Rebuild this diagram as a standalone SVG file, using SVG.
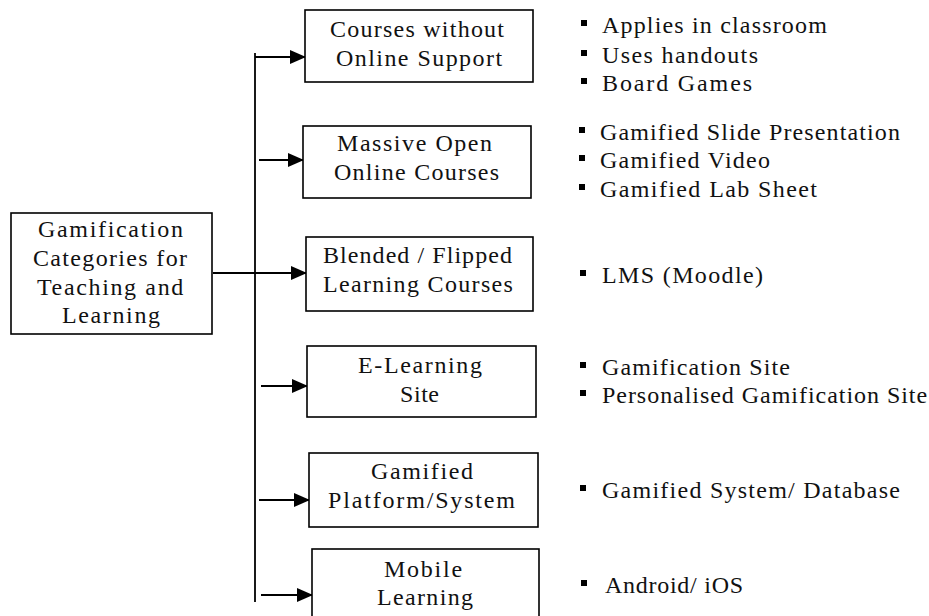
<svg xmlns="http://www.w3.org/2000/svg" width="929" height="616" viewBox="0 0 929 616">
<style>
.box{fill:#fff;stroke:#000;stroke-width:1.6}
.c{fill:none;stroke:#000;stroke-width:1.8}
.b{fill:#000}
</style>
<defs>
<marker id="ah" markerUnits="userSpaceOnUse" markerWidth="16" markerHeight="14" refX="15" refY="7" orient="auto">
<path d="M0,0 L16,7 L0,14 z" fill="#000"/>
</marker>
</defs>
<rect width="929" height="616" fill="#fff"/>
<g id="connectors">
<line class="c" x1="255" y1="53" x2="255" y2="602"/>
<line class="c" x1="255" y1="57" x2="305" y2="57" marker-end="url(#ah)"/>
<line class="c" x1="259" y1="160" x2="303" y2="160" marker-end="url(#ah)"/>
<line class="c" x1="213" y1="273" x2="306" y2="273" marker-end="url(#ah)"/>
<line class="c" x1="261" y1="386" x2="307" y2="386" marker-end="url(#ah)"/>
<line class="c" x1="259" y1="500" x2="309" y2="500" marker-end="url(#ah)"/>
<line class="c" x1="261" y1="595" x2="312" y2="595" marker-end="url(#ah)"/>
</g>
<g font-family="Liberation Serif" font-size="24" fill="#111">
<g id="root">
<rect class="box" x="11" y="213" width="201" height="121"/>
<text x="38" y="237" letter-spacing="1.67">Gamification</text>
<text x="33" y="266" letter-spacing="1.34">Categories for</text>
<text x="37" y="295" letter-spacing="1.64">Teaching and</text>
<text x="62" y="323" letter-spacing="1.63">Learning</text>
</g>
<g id="n1">
<rect class="box" x="305" y="10" width="228" height="72"/>
<text x="330" y="37" letter-spacing="1.24">Courses without</text>
<text x="336" y="66" letter-spacing="1.44">Online Support</text>
</g>
<g id="n2">
<rect class="box" x="303" y="126" width="228" height="72"/>
<text x="337" y="151" letter-spacing="1.55">Massive Open</text>
<text x="334" y="180" letter-spacing="1.26">Online Courses</text>
</g>
<g id="n3">
<rect class="box" x="306" y="237" width="227" height="74"/>
<text x="323" y="263" letter-spacing="1.06">Blended / Flipped</text>
<text x="323" y="292" letter-spacing="1.33">Learning Courses</text>
</g>
<g id="n4">
<rect class="box" x="307" y="346" width="229" height="71"/>
<text x="358" y="373" letter-spacing="1.63">E-Learning</text>
<text x="400" y="402" letter-spacing="0.56">Site</text>
</g>
<g id="n5">
<rect class="box" x="309" y="453" width="229" height="74"/>
<text x="371" y="479" letter-spacing="1.63">Gamified</text>
<text x="328" y="508" letter-spacing="1.83">Platform/System</text>
</g>
<g id="n6">
<rect class="box" x="312" y="549" width="227" height="80"/>
<text x="384" y="577" letter-spacing="1.74">Mobile</text>
<text x="377" y="605" letter-spacing="1.34">Learning</text>
</g>
<g id="list1">
<rect class="b" x="581" y="20" width="6" height="6"/>
<text x="602" y="33" letter-spacing="1.17">Applies in classroom</text>
<rect class="b" x="581" y="50" width="6" height="6"/>
<text x="602" y="63" letter-spacing="1.39">Uses handouts</text>
<rect class="b" x="581" y="78" width="6" height="6"/>
<text x="602" y="91" letter-spacing="1.87">Board Games</text>
</g>
<g id="list2">
<rect class="b" x="579" y="127" width="6" height="6"/>
<text x="600" y="140" letter-spacing="1.13">Gamified Slide Presentation</text>
<rect class="b" x="579" y="155" width="6" height="6"/>
<text x="600" y="168" letter-spacing="1.28">Gamified Video</text>
<rect class="b" x="579" y="184" width="6" height="6"/>
<text x="600" y="197" letter-spacing="1.39">Gamified Lab Sheet</text>
</g>
<g id="list3">
<rect class="b" x="580" y="270" width="6" height="6"/>
<text x="602" y="283" letter-spacing="1.36">LMS (Moodle)</text>
</g>
<g id="list4">
<rect class="b" x="580" y="362" width="6" height="6"/>
<text x="602" y="375" letter-spacing="1.12">Gamification Site</text>
<rect class="b" x="580" y="390" width="6" height="6"/>
<text x="602" y="403" letter-spacing="0.96">Personalised Gamification Site</text>
</g>
<g id="list5">
<rect class="b" x="580" y="485" width="6" height="6"/>
<text x="602" y="498" letter-spacing="1.25">Gamified System/ Database</text>
</g>
<g id="list6">
<rect class="b" x="581" y="580" width="6" height="6"/>
<text x="605" y="593" letter-spacing="0.73">Android/ iOS</text>
</g>
</g>
</svg>
